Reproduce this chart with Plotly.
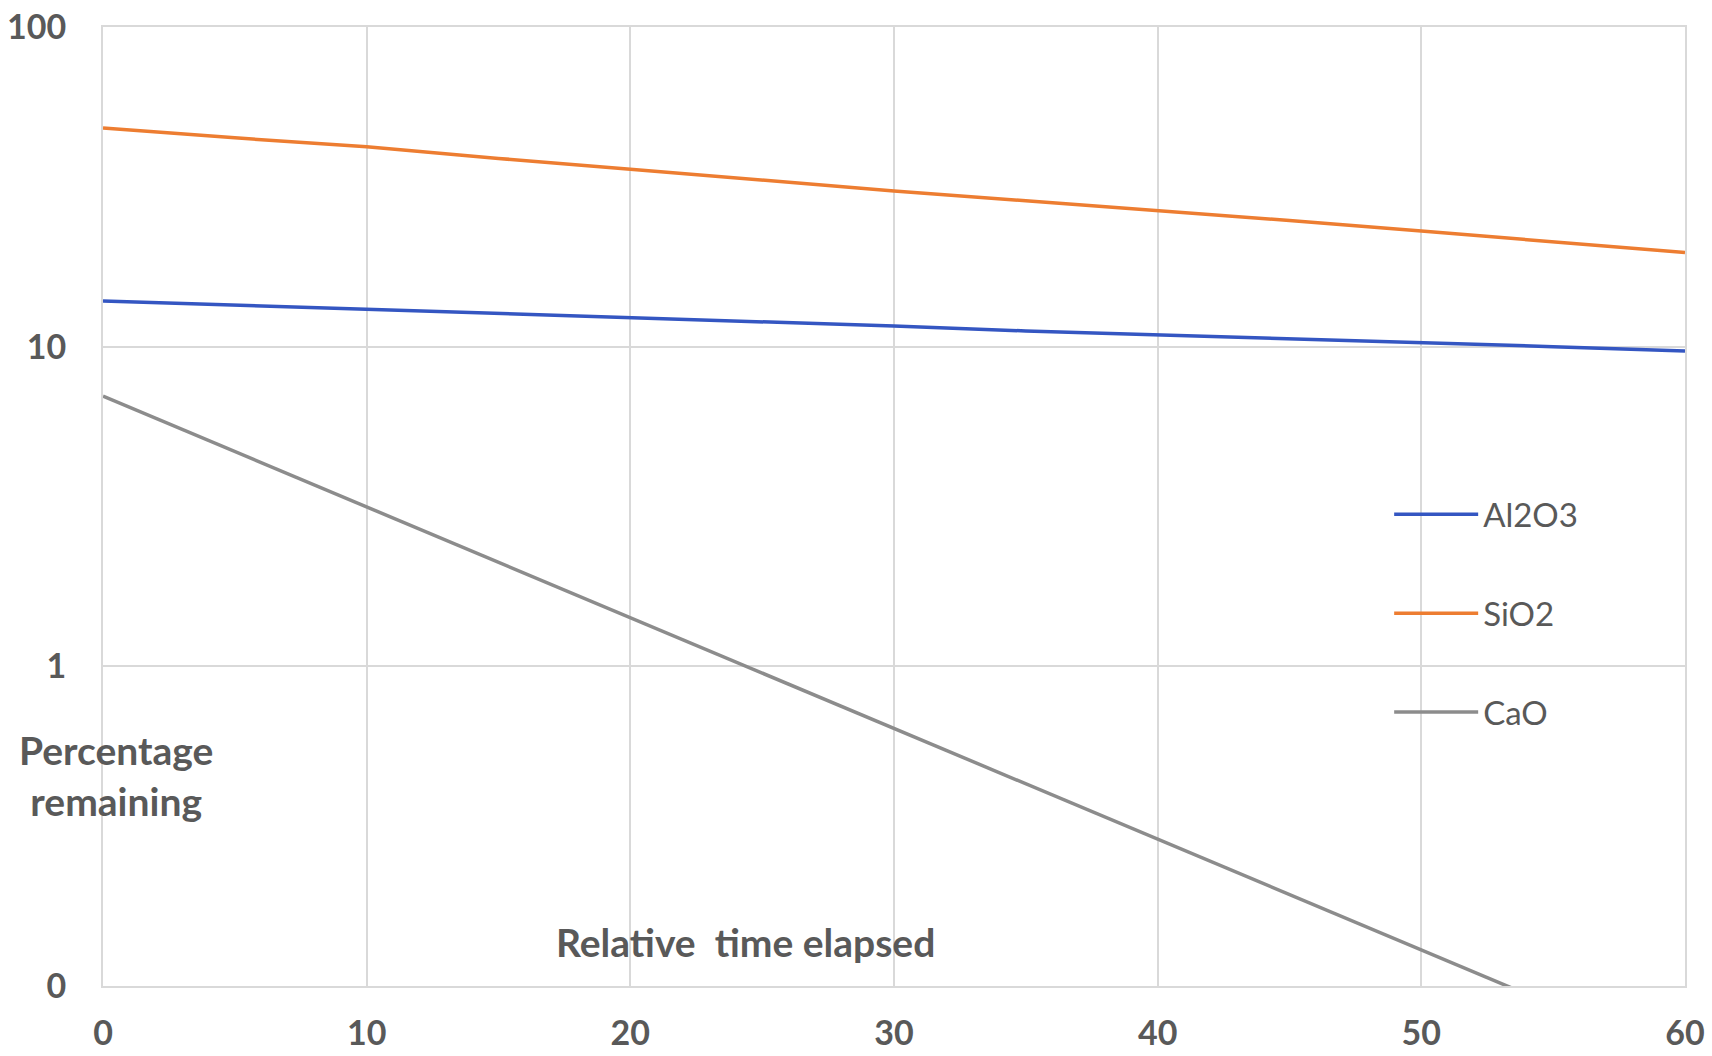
import plotly.graph_objects as go

# Relative time elapsed (x) and percentage of each oxide remaining (log scale)
time_elapsed = [0, 5, 10, 15, 20, 25, 30, 35, 40, 45, 50, 55, 60]
al2o3 = [13.9, 13.5, 13.1, 12.7, 12.3, 12.0, 11.6, 11.2, 10.9, 10.6, 10.3, 10.0, 9.7]
sio2 = [48.3, 45.0, 42.2, 38.8, 35.9, 33.2, 30.7, 28.6, 26.7, 24.8, 23.0, 21.3, 19.7]
cao_time = [0, 5, 10, 15, 20, 25, 30, 35, 40, 45, 50, 55]
cao = [7.0, 4.7, 3.16, 2.12, 1.42, 0.954, 0.64, 0.43, 0.288, 0.194, 0.13, 0.087]

y_tickvals = [0.1, 1, 10, 100]
y_ticktext = ["0", "1", "10", "100"]
x_tickvals = [0, 10, 20, 30, 40, 50, 60]

FONT = "Lato"
TEXT_GREY = "#595959"
GRID = "#d9d9d9"

fig = go.Figure()
fig.add_trace(go.Scatter(x=time_elapsed, y=al2o3, name="Al2O3", mode="lines",
                         line=dict(color="#3456c2", width=3.5), legendgroup="a"))
fig.add_trace(go.Scatter(x=time_elapsed, y=sio2, name="SiO2", mode="lines",
                         line=dict(color="#ed7d31", width=3.5), legendgroup="b"))
fig.add_trace(go.Scatter(x=cao_time, y=cao, name="CaO", mode="lines",
                         line=dict(color="#8c8c8c", width=3.5), legendgroup="c"))

fig.update_layout(
    width=1712, height=1056,
    margin=dict(l=103, r=27, t=27, b=70, autoexpand=False),
    paper_bgcolor="white", plot_bgcolor="white",
    font=dict(family=FONT, color=TEXT_GREY),
    legend=dict(x=0.813, y=0.521, xanchor="left", yanchor="top",
                bgcolor="rgba(0,0,0,0)", tracegroupgap=53, itemwidth=84,
                font=dict(family=FONT, size=33, color=TEXT_GREY)),
    annotations=[
        dict(text="<b>Percentage<br>remaining</b>", xref="paper", yref="paper",
             x=0.008, y=0.219, xanchor="center", yanchor="middle", showarrow=False,
             font=dict(family=FONT, size=39, color=TEXT_GREY)),
        dict(text="<b>Relative\u00a0 time elapsed</b>", xref="paper", yref="paper",
             x=0.406, y=0.046, xanchor="center", yanchor="middle", showarrow=False,
             font=dict(family=FONT, size=39, color=TEXT_GREY)),
    ],
)

fig.update_xaxes(range=[0, 60], tickvals=x_tickvals, showgrid=True, gridcolor=GRID,
                 gridwidth=2, showline=True, linecolor=GRID, linewidth=2, mirror=True,
                 zeroline=False, ticks="", ticklabelstandoff=16, automargin=False,
                 ticklabeloverflow="allow",
                 tickfont=dict(family=FONT, size=34, color=TEXT_GREY, weight="bold"))
fig.update_yaxes(type="log", range=[-1, 2], tickvals=y_tickvals, ticktext=y_ticktext,
                 showgrid=True, gridcolor=GRID, gridwidth=2, showline=True,
                 linecolor=GRID, linewidth=2, mirror=True, zeroline=False, ticks="",
                 ticklabelstandoff=28, automargin=False, ticklabeloverflow="allow",
                 tickfont=dict(family=FONT, size=34, color=TEXT_GREY, weight="bold"))

fig.write_html("out.html")
